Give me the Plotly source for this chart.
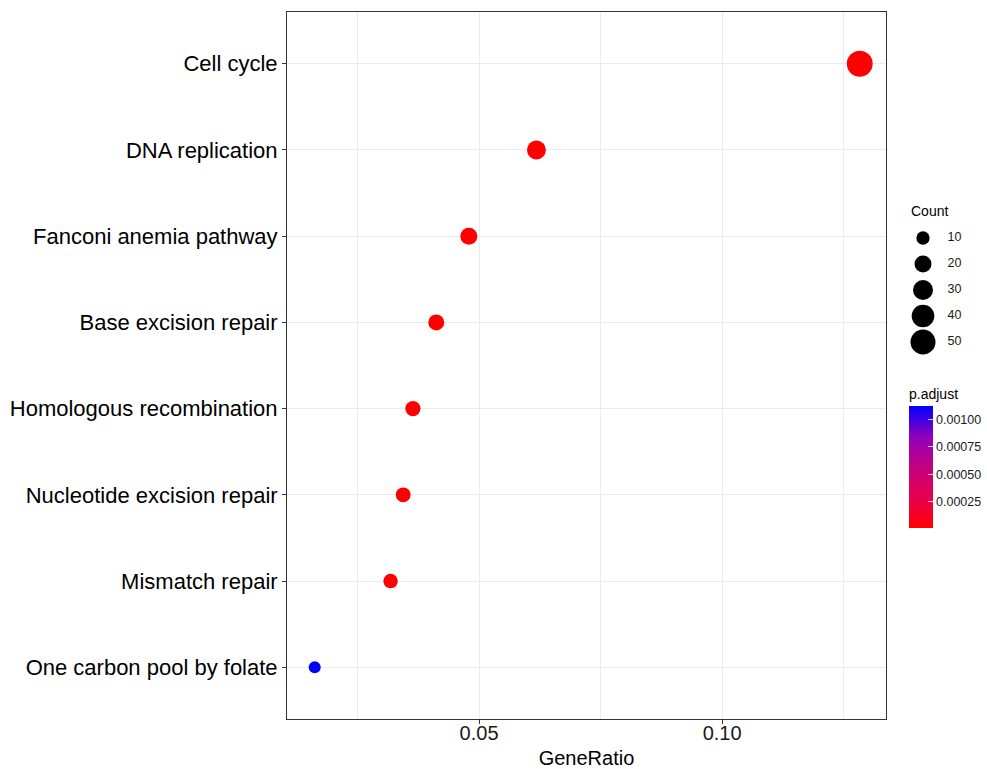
import plotly.graph_objects as go
import math

# ---- data ----
terms = ["One carbon pool by folate", "Mismatch repair", "Nucleotide excision repair",
         "Homologous recombination", "Base excision repair", "Fanconi anemia pathway",
         "DNA replication", "Cell cycle"]
gene_ratio = [0.0162, 0.0318, 0.0344, 0.0364, 0.0412, 0.0479, 0.0618, 0.1283]
counts = [7, 13, 14, 15, 17, 20, 26, 54]
p_adjust = [0.00112, 0.0000125, 0.0000110, 0.0000115, 0.0000105, 0.0000100, 0.0000100, 0.0000100]

x_ticks = [0.05, 0.10]
x_ticktext = ["0.05", "0.10"]
legend_counts = [10, 20, 30, 40, 50]
cbar_ticks = [0.00025, 0.00050, 0.00075, 0.00100]

def diam(c):
    return math.sqrt(65 + 11.2 * c)

colorscale = [[0.0, "#FF0000"], [0.25, "#E6004F"], [0.5, "#C4007F"],
              [0.75, "#8E00BA"], [1.0, "#0000FF"]]

FONT = "Liberation Sans, Arial"
W, H = 987, 769
L, R, T, B = 287, 0, 12, 50
pw = W - L - R
ph = H - T - B
main_right = (886 - L) / pw
xrange_ = [0.0105, 0.1337]

fig = go.Figure()
fig.add_trace(go.Scatter(
    x=gene_ratio, y=terms, mode="markers",
    marker=dict(size=[diam(c) for c in counts], color=p_adjust, opacity=1,
                colorscale=colorscale, cmin=min(p_adjust), cmax=max(p_adjust),
                line=dict(width=0),
                colorbar=dict(
                    title=dict(text="p.adjust", side="top",
                               font=dict(size=14, color="#000", family=FONT)),
                    thickness=24, thicknessmode="pixels",
                    len=143, lenmode="pixels",
                    x=(909 - L) / pw, xanchor="left",
                    y=(H - B - 528) / ph, yanchor="bottom",
                    tickvals=cbar_ticks, tickformat=".5f",
                    ticks="inside", ticklen=5, tickcolor="rgba(255,255,255,0.8)",
                    tickfont=dict(size=12.5, color="#1a1a1a", family=FONT),
                    outlinewidth=0, xpad=0, ypad=0,
                )),
    showlegend=False, hoverinfo="x+y", xaxis="x", yaxis="y",
))

# Count size legend drawn on auxiliary axes
fig.add_trace(go.Scatter(
    x=[0] * len(legend_counts), y=legend_counts, mode="markers",
    marker=dict(size=[diam(c) for c in legend_counts], color="black", opacity=1,
                line=dict(width=0)),
    showlegend=False, hoverinfo="skip", xaxis="x2", yaxis="y2", cliponaxis=False,
))
fig.add_trace(go.Scatter(
    x=[0.7] * len(legend_counts), y=legend_counts, mode="text",
    text=[str(c) for c in legend_counts], textposition="middle right",
    textfont=dict(size=12.5, color="#1a1a1a", family=FONT),
    showlegend=False, hoverinfo="skip", xaxis="x2", yaxis="y2", cliponaxis=False,
))
# invisible trace to carry the tick-label axis
fig.add_trace(go.Scatter(
    x=x_ticks, y=[terms[0], terms[0]], mode="markers", marker=dict(opacity=0),
    showlegend=False, hoverinfo="skip", xaxis="x3", yaxis="y",
))

fig.update_layout(
    width=W, height=H,
    margin=dict(l=L, r=R, t=T, b=B),
    paper_bgcolor="white", plot_bgcolor="white",
    font=dict(family=FONT, color="#000"),
    xaxis=dict(
        domain=[0, main_right], range=xrange_,
        tickvals=x_ticks, showticklabels=False,
        showgrid=True, gridcolor="#EBEBEB", gridwidth=1,
        minor=dict(tickvals=[0.025, 0.075, 0.125], showgrid=True, gridcolor="#EBEBEB", gridwidth=1),
        ticks="outside", ticklen=4, tickcolor="#333333",
        showline=True, linecolor="#333333", linewidth=1, mirror=True,
        zeroline=False,
    ),
    xaxis3=dict(
        domain=[0, main_right], range=xrange_, overlaying="x",
        anchor="free", position=0, side="bottom",
        tickvals=x_ticks, ticktext=x_ticktext, ticks="",
        showgrid=False, showline=False, zeroline=False,
        tickfont=dict(size=20, color="#1a1a1a"),
        title=dict(text="GeneRatio", font=dict(size=20, color="#000"), standoff=9),
    ),
    yaxis=dict(
        type="category", categoryorder="array", categoryarray=terms,
        range=[-0.6, 7.6],
        showgrid=True, gridcolor="#EBEBEB", gridwidth=1,
        ticks="outside", ticklen=4, tickcolor="#333333",
        tickfont=dict(size=22, color="#000"),
        showline=True, linecolor="#333333", linewidth=1, mirror=True,
        zeroline=False,
    ),
    xaxis2=dict(domain=[(923 - L) / pw - 0.05, (923 - L) / pw + 0.05], range=[-1, 1],
                visible=False, fixedrange=True),
    yaxis2=dict(domain=[(H - B - 342) / ph, (H - B - 238) / ph], range=[50, 10],
                visible=False, fixedrange=True, anchor="x2"),
    annotations=[dict(text="Count", x=(909 - L) / pw, y=(H - B - 211) / ph,
                      xref="paper", yref="paper", xanchor="left", yanchor="middle",
                      showarrow=False, font=dict(size=14, color="#000"))],
)

fig.write_html("out.html")
